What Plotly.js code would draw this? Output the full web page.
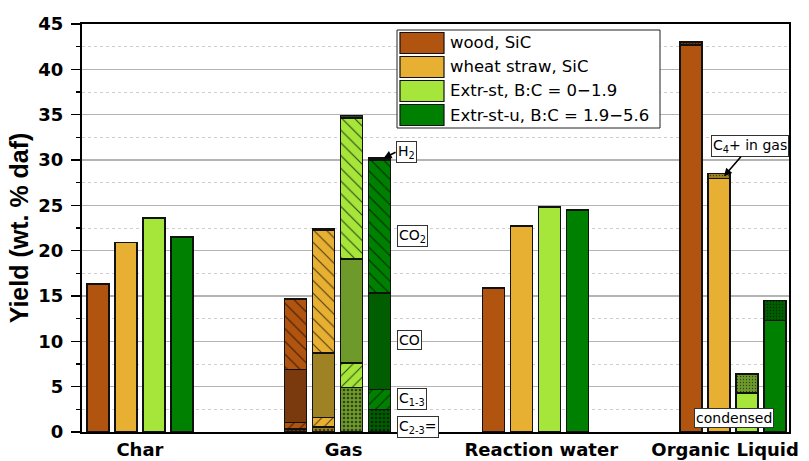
<!DOCTYPE html>
<html>
<head>
<meta charset="utf-8">
<script src="https://cdn.plot.ly/plotly-3.0.1.min.js"></script>
<style>html,body{margin:0;padding:0;background:#fff;}#chart{width:809px;height:461px;}</style>
</head>
<body>
<div id="chart"></div>
<script>
// ---------- data ----------
const categories = ['Char', 'Gas', 'Reaction water', 'Organic Liquid'];
const seriesNames = ['wood, SiC', 'wheat straw, SiC', 'Extr-st, B:C = 0\u22121.9', 'Extr-st-u, B:C = 1.9\u22125.6'];
const charYield = [16.3, 20.9, 23.6, 21.5];
const waterYield = [15.85, 22.7, 24.8, 24.5];
// gas components (stacked bottom to top)
const gasC23 = [0.3, 0.55, 4.9, 2.5];
const gasC13 = [0.75, 1.05, 2.7, 2.2];
const gasCO = [5.85, 7.1, 11.5, 10.6];
const gasCO2 = [7.7, 13.6, 15.5, 14.7];
const gasH2 = [0.1, 0.1, 0.3, 0.2];
// organic liquid
const liqCondensed = [42.7, 27.95, 4.3, 12.3];
const liqC4 = [0.3, 0.55, 2.1, 2.2];

// ---------- styles ----------
const mainColors = ['#B1540F', '#E8B032', '#A6E63A', '#008000'];
const darkColors = ['#7A3A0E', '#9E8223', '#6E9A2C', '#005E00'];
const hatchColors = ['#3a1c06', '#4a3a10', '#2e4412', '#002a00'];
const catPos = [0, 1, 2, 3];
const step = 0.1416, bw = 0.111;
const lineStyle = {color: '#111', width: 1.6};
const F = 'DejaVu Sans, sans-serif';
const FT = 'Liberation Sans, Arial, sans-serif';

function xs(cats, s) { return cats.map(c => catPos[c] + (s - 1.5) * step); }

const traces = [];
for (let s = 0; s < 4; s++) {
  traces.push({type: 'bar', x: xs([0, 2], s), y: [charYield[s], waterYield[s]], width: bw,
    marker: {color: mainColors[s], line: lineStyle}, showlegend: false, hoverinfo: 'y'});
  const gasParts = [
    {v: gasC23[s], bg: darkColors[s], fg: hatchColors[s], shape: '.', size: 4, sol: 0.35},
    {v: gasC13[s], bg: mainColors[s], fg: hatchColors[s], shape: '/', size: 8, sol: 0.12},
    {v: gasCO[s], bg: darkColors[s], fg: null},
    {v: gasCO2[s], bg: mainColors[s], fg: hatchColors[s], shape: '\\', size: 9, sol: 0.12},
    {v: gasH2[s], bg: hatchColors[s], fg: null}
  ];
  gasParts.forEach(p => {
    const m = {color: p.bg, line: lineStyle};
    if (p.fg) m.pattern = {shape: p.shape, fgcolor: p.fg, bgcolor: p.bg, size: p.size, solidity: p.sol, fillmode: 'replace'};
    traces.push({type: 'bar', x: xs([1], s), y: [p.v], width: bw, marker: m, showlegend: false, hoverinfo: 'y'});
  });
  traces.push({type: 'bar', x: xs([3], s), y: [liqCondensed[s]], width: bw,
    marker: {color: mainColors[s], line: lineStyle}, showlegend: false, hoverinfo: 'y'});
  traces.push({type: 'bar', x: xs([3], s), y: [liqC4[s]], width: bw,
    marker: {color: darkColors[s], line: lineStyle,
      pattern: {shape: '.', fgcolor: hatchColors[s], bgcolor: darkColors[s], size: 3, solidity: 0.15}},
    showlegend: false, hoverinfo: 'y'});
}

// ---------- layout ----------
const W = 809, H = 461, mL = 82, mR = 20, mT = 24, mB = 29;
const pw = W - mL - mR, ph = H - mT - mB;
const px2x = px => (px - mL) / pw;
const py2y = py => (H - mB - py) / ph;

const shapes = [];
const annotations = [];
shapes.push({type: 'rect', xref: 'paper', yref: 'paper', x0: px2x(397), x1: px2x(660), y0: py2y(128), y1: py2y(30),
  line: {color: '#222', width: 1}, fillcolor: 'white', layer: 'above'});
seriesNames.forEach((n, i) => {
  const top = 32.5 + i * 24;
  shapes.push({type: 'rect', xref: 'paper', yref: 'paper', x0: px2x(400), x1: px2x(444), y0: py2y(top + 21), y1: py2y(top),
    line: {color: '#111', width: 1.2}, fillcolor: mainColors[i], layer: 'above'});
  annotations.push({xref: 'paper', yref: 'paper', x: px2x(448), y: py2y(top + 10.5), xanchor: 'left', yanchor: 'middle',
    text: n, showarrow: false, font: {family: F, size: 16.5, color: '#000'}});
});

const boxFont = {family: F, size: 14, color: '#000'};
function lab(text, x, y, extra) {
  return Object.assign({x: x, y: y, xref: 'x', yref: 'y', text: text, showarrow: false, font: boxFont,
    bordercolor: '#333', borderwidth: 1, borderpad: 1, bgcolor: 'white'}, extra || {});
}
annotations.push(lab('H<sub>2</sub>', 1 + 1.5 * step + 0.02, gasC23[3] + gasC13[3] + gasCO[3] + gasCO2[3] + gasH2[3],
  {showarrow: true, arrowhead: 2, arrowsize: 1, arrowwidth: 1.6, arrowcolor: '#000', ax: 12, ay: -6, xanchor: 'left'}));
annotations.push(lab('CO<sub>2</sub>', 1.3, 21.6, {xanchor: 'left'}));
annotations.push(lab('CO', 1.3, 10.2, {xanchor: 'left'}));
annotations.push(lab('C<sub>1-3</sub>', 1.3, 3.65, {xanchor: 'left'}));
annotations.push(lab('C<sub>2-3</sub>=', 1.3, 0.55, {xanchor: 'left'}));
annotations.push(lab('C<sub>4</sub>+ in gas', 3 - 0.5 * step + 0.025, liqCondensed[1] + liqC4[1] - 0.3,
  {showarrow: true, arrowhead: 2, arrowsize: 1, arrowwidth: 1.6, arrowcolor: '#000', ax: 26, ay: -30}));
annotations.push(lab('condensed', 3.005, 1.55));

const layout = {
  width: W, height: H,
  margin: {l: mL, r: mR, t: mT, b: mB, pad: 0},
  paper_bgcolor: 'white', plot_bgcolor: 'white',
  barmode: 'stack',
  showlegend: false,
  font: {family: F},
  xaxis: {
    range: [-0.293, 3.283], tickvals: [0, 1.03, 2.03, 2.96], ticktext: categories,
    ticks: '', showgrid: false, zeroline: false,
    showline: true, linecolor: '#000', linewidth: 2, mirror: true,
    tickfont: {family: F, size: 18, color: '#000', weight: 'bold'}
  },
  yaxis: {
    range: [0, 45], dtick: 5, tick0: 0,
    ticks: 'outside', ticklen: 9, tickwidth: 1.5, tickcolor: '#000',
    ticklabelstandoff: 4,
    showline: true, linecolor: '#000', linewidth: 2, mirror: true,
    zeroline: false,
    gridcolor: '#b4b4b4', gridwidth: 1.5,
    minor: {dtick: 2.5, ticks: 'outside', ticklen: 4, tickcolor: '#000', tickwidth: 1.5,
      showgrid: true, gridcolor: '#d0d0d0', griddash: 'dot', gridwidth: 1},
    tickfont: {family: F, size: 18, color: '#000', weight: 'bold'},
    title: {text: 'Yield (wt. % daf)', font: {family: FT, size: 25, color: '#000', weight: 'bold'}, standoff: 3}
  },
  shapes: shapes,
  annotations: annotations
};

Plotly.newPlot('chart', traces, layout, {displayModeBar: false, staticPlot: true});
</script>
</body>
</html>
